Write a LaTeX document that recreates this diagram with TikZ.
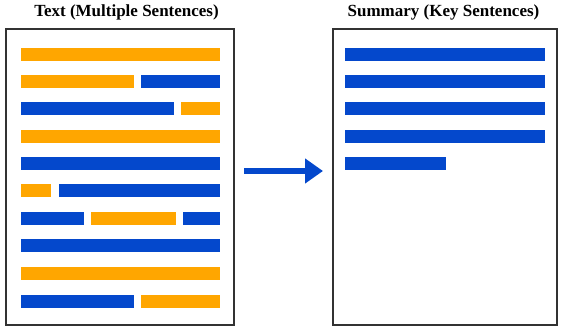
\documentclass[tikz,border=0pt]{standalone}
\usepackage{fontspec}
\setmainfont{Liberation Serif}
\usetikzlibrary{arrows.meta}
\definecolor{barorange}{RGB}{255,166,0}
\definecolor{barblue}{RGB}{4,72,204}
\definecolor{framegray}{RGB}{50,50,50}
\begin{document}
\begin{tikzpicture}[x=1pt,y=-1pt,
  panel/.style={draw=framegray,line width=1.4pt,fill=white},
  ob/.style={fill=barorange},
  bb/.style={fill=barblue},
  ttl/.style={font=\bfseries\fontsize{17}{20}\selectfont,text=black,inner sep=0pt,anchor=base},
  flow/.style={draw=barblue,line width=5.5pt,-{Triangle[length=18pt,width=24pt]}}]
\useasboundingbox (0,0) rectangle (562,331);
% panels
\draw[panel] (6,29) rectangle (234,325);
\draw[panel] (333,29) rectangle (557,325);
\node[ttl] (t1) at (126.5,17) {Text (Multiple Sentences)};
\node[ttl] (t2) at (443.5,17) {Summary (Key Sentences)};
% left bars
\def\h{13}
\fill[ob] (21,48) rectangle (220,48+\h);
\fill[ob] (21,75) rectangle (134,75+\h);
\fill[bb] (141,75) rectangle (220,75+\h);
\fill[bb] (21,102) rectangle (174,102+\h);
\fill[ob] (181,102) rectangle (220,102+\h);
\fill[ob] (21,130) rectangle (220,130+\h);
\fill[bb] (21,157) rectangle (220,157+\h);
\fill[ob] (21,184) rectangle (51,184+\h);
\fill[bb] (59,184) rectangle (220,184+\h);
\fill[bb] (21,212) rectangle (84,212+\h);
\fill[ob] (91,212) rectangle (176,212+\h);
\fill[bb] (183,212) rectangle (220,212+\h);
\fill[bb] (21,239) rectangle (220,239+\h);
\fill[ob] (21,267) rectangle (220,267+\h);
\fill[bb] (21,295) rectangle (134,295+\h);
\fill[ob] (141,295) rectangle (220,295+\h);
% right bars
\fill[bb] (345,48) rectangle (545,48+\h);
\fill[bb] (345,75) rectangle (545,75+\h);
\fill[bb] (345,102) rectangle (545,102+\h);
\fill[bb] (345,130) rectangle (545,130+\h);
\fill[bb] (345,157) rectangle (446,157+\h);
% arrow
\coordinate (a1) at (244,171);
\coordinate (a2) at (323,171);
\draw[flow] (a1) -- (a2);
\end{tikzpicture}
\end{document}
